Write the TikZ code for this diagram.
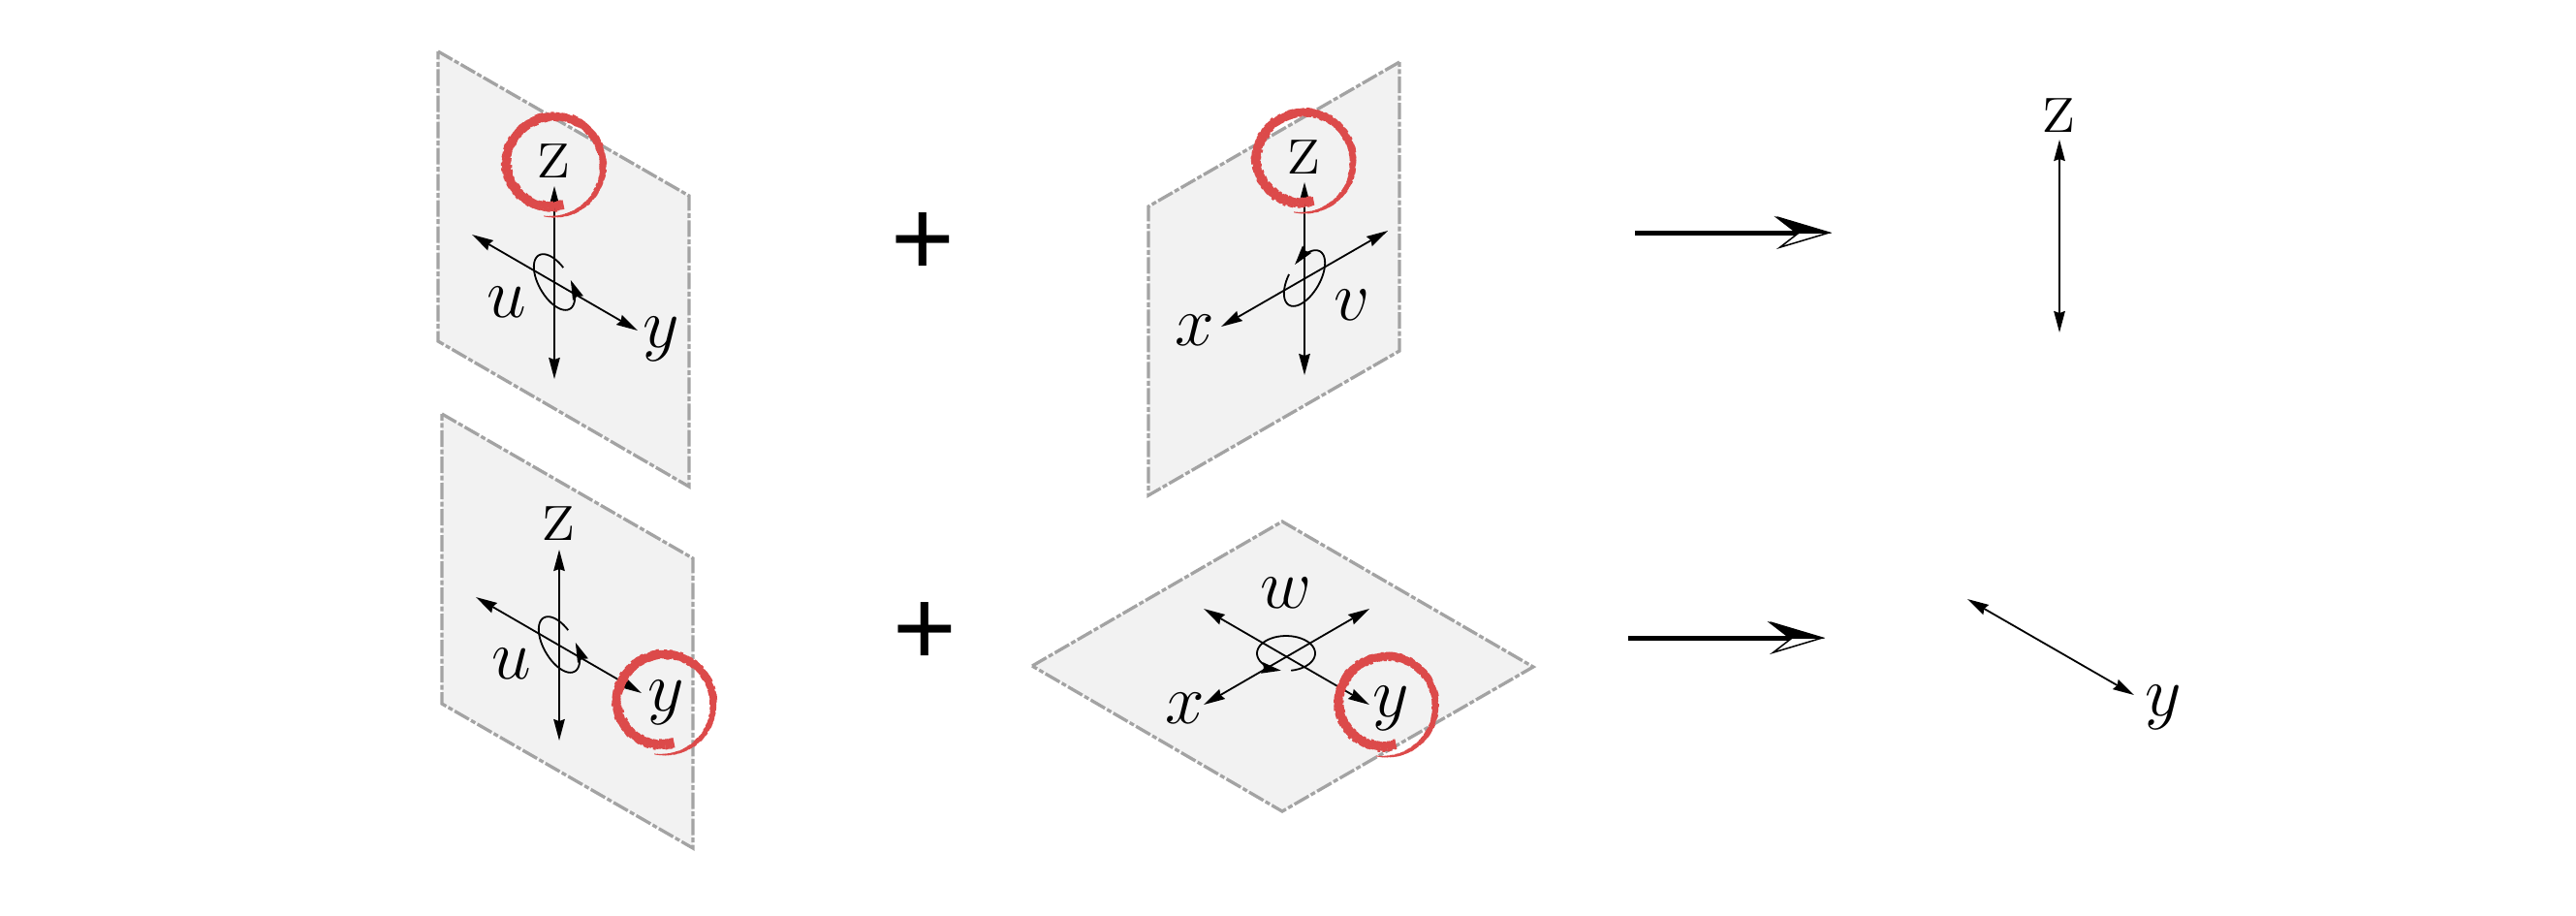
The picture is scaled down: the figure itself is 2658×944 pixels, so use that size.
\documentclass[tikz,border=0pt]{standalone}
\usepackage{amsmath}
\usepackage{fontspec}
\newfontfamily\plusfont{Liberation Sans}
\usetikzlibrary{arrows.meta, positioning, calc}

\begin{document}
\begin{tikzpicture}[
  x=.01cm, y=-.01cm,
  lab/.style={inner sep=0pt, font=\fontsize{20.74}{24}\selectfont},
  labz/.style={inner sep=0pt, font=\fontsize{23}{26}\selectfont},
  plus/.style={inner sep=0pt, font=\plusfont\fontsize{32}{36}\selectfont},
  plane/.style={draw=black!36, fill=black!5, line width=.033cm,
                dash pattern=on .17cm off .025cm on .05cm off .025cm},
  arr/.style={{Stealth[length=.22cm,width=.115cm,inset=.02cm]}-{Stealth[length=.22cm,width=.115cm,inset=.02cm]}, line width=.018cm},
  spin/.style={-{Stealth[length=.2cm,width=.115cm,inset=.02cm]}, line width=.018cm},
  bigarr/.style={-{Stealth[length=.57cm,width=.34cm,inset=.22cm,line width=.015cm,fill=white]}, line width=.05cm},
  bigharp/.style={-{Stealth[length=.57cm,width=.34cm,inset=.22cm,line width=.015cm,harpoon]}, line width=.05cm},
  ring/.pic={
    \foreach \a in {77,80,...,458}{
      \pgfmathsetmacro{\ww}{(9*(1-((\a-77)/383)^3.5)+.8)*(1+.12*rand)}
      \pgfmathsetmacro{\rr}{50-8*max(0,(180-\a)/103)+4*max(0,(\a-360)/100)+.07*\ww*rand}
      \draw[ringred, line width=\ww*.01cm] (\a:\rr) -- (\a+3.6:\rr);
    }
  }
]
\definecolor{ringred}{HTML}{DC4A4A}
\pgfmathsetseed{7}
\useasboundingbox (0,0) rectangle (2658,944);

% planes
\draw[plane] (452,53) -- (711,202) -- (711,502) -- (452,352) -- cycle;
\draw[plane] (1444,64) -- (1185,213) -- (1185,511) -- (1444,362) -- cycle;
\draw[plane] (456,427) -- (715,576) -- (715,875) -- (456,726) -- cycle;
\draw[plane] (1065,687) -- (1323,538) -- (1582,688) -- (1323,837) -- cycle;

% top left
\coordinate (zA1) at (572,192);
\coordinate (zA2) at (572,391);
\coordinate (yA1) at (487,242);
\coordinate (yA2) at (658,341);
\draw[arr] (zA1) -- (zA2);
\draw[arr] (yA1) -- (yA2);
\draw[spin] plot[domain=-105:-438, samples=50] ({572+32*cos(\x)*.5-16*sin(\x)*.866}, {291+32*cos(\x)*.866+16*sin(\x)*.5});
\node[labz] (labzA) at (572,166) {z};
\node[lab] (labuA) at (523,312) {$u$};
\node[lab] (labyA) at (682,350) {$y$};

% top middle
\coordinate (zB1) at (1346,188);
\coordinate (zB2) at (1346,387);
\coordinate (xB1) at (1432,238);
\coordinate (xB2) at (1260,337);
\draw[arr] (zB1) -- (zB2);
\draw[arr] (xB1) -- (xB2);
\draw[spin] plot[domain=-98:-437, samples=50] ({1346+32*cos(\x)*.5+16*sin(\x)*.866}, {287-32*cos(\x)*.866+16*sin(\x)*.5});
\node[labz] (labzB) at (1346,162) {z};
\node[lab] (labxB) at (1233,341) {$x$};
\node[lab] (labvB) at (1395,315) {$v$};

% bottom left
\coordinate (zC1) at (577,567);
\coordinate (zC2) at (577,764);
\coordinate (yC1) at (491,616);
\coordinate (yC2) at (662,715);
\draw[arr] (zC1) -- (zC2);
\draw[arr] (yC1) -- (yC2);
\draw[spin] plot[domain=-105:-438, samples=50] ({577+32*cos(\x)*.5-16*sin(\x)*.866}, {665+32*cos(\x)*.866+16*sin(\x)*.5});
\node[labz] (labzC) at (577,540) {z};
\node[lab] (labuC) at (528,685) {$u$};
\node[lab] (labyC) at (687,725) {$y$};

% bottom middle
\coordinate (wD1) at (1242,628);
\coordinate (wD2) at (1413,727);
\coordinate (xD1) at (1413,628);
\coordinate (xD2) at (1242,727);
\draw[arr] (wD1) -- (wD2);
\draw[arr] (xD1) -- (xD2);
\draw[spin] plot[domain=80:-260, samples=50] ({1327+30*cos(\x)}, {674+18*sin(\x)});
\node[lab] (labwD) at (1327,612) {$w$};
\node[lab] (labxD) at (1223,731) {$x$};
\node[lab] (labyD) at (1435,731) {$y$};

% rings
\pic at (572,170) {ring};
\pic at (1346,166) {ring};
\pic at (686,725) {ring};
\pic at (1431,727) {ring};

% plus signs
\node[plus] (plusT) at (952,252) {+};
\node[plus] (plusB) at (954,654) {+};

% big arrows
\coordinate (bigT1) at (1687,240);
\coordinate (bigT2) at (1890,240);
\coordinate (bigB1) at (1680,658);
\coordinate (bigB2) at (1883,658);
\draw[bigarr] (bigT1) -- (bigT2);
\draw[bigharp] (bigT1) -- (bigT2);
\draw[bigarr] (bigB1) -- (bigB2);
\draw[bigharp] (bigB1) -- (bigB2);

% right column
\coordinate (zR1) at (2125,144);
\coordinate (zR2) at (2125,343);
\coordinate (yR1) at (2030,618);
\coordinate (yR2) at (2202,717);
\draw[arr] (zR1) -- (zR2);
\draw[arr] (yR1) -- (yR2);
\node[labz] (labzR) at (2125,119) {z};
\node[lab] (labyR) at (2232,730) {$y$};
\end{tikzpicture}
\end{document}
